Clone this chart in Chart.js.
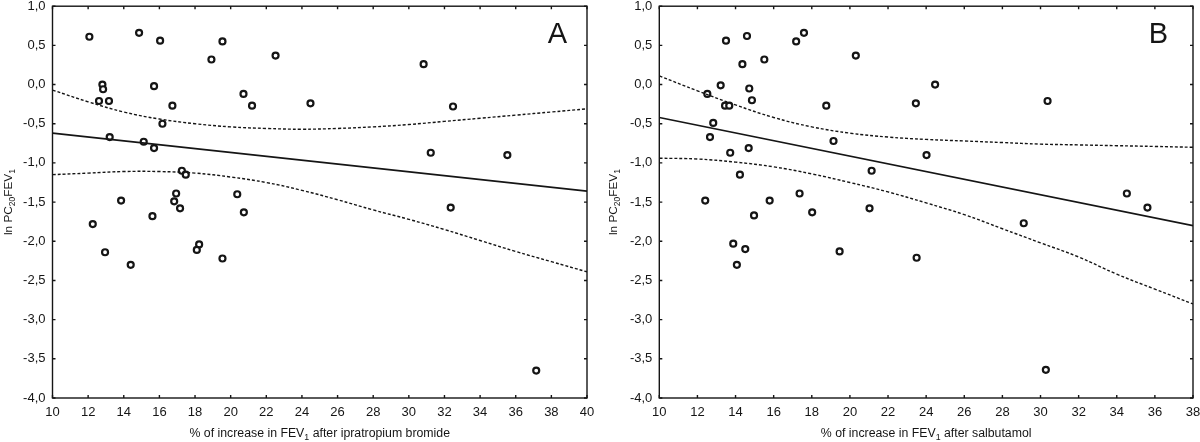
<!DOCTYPE html>
<html>
<head>
<meta charset="utf-8">
<title>PC20 vs FEV1 increase</title>
<script src="https://cdn.jsdelivr.net/npm/chart.js"></script>
<style>
  body { margin:0; background:#fff; }
  .panel { position:absolute; top:0; width:600px; height:442px; }
  #wrapA { left:0; }
  #wrapB { left:600px; }
</style>
</head>
<body>
<div class="panel" id="wrapA"><canvas id="chartA" width="600" height="442"></canvas></div>
<div class="panel" id="wrapB"><canvas id="chartB" width="600" height="442"></canvas></div>
<script>
// panel A: ipratropium bromide
const aX = [12.07, 14.86, 16.04, 18.92, 19.54, 22.52, 30.83,
            12.8, 12.84, 12.61, 13.17, 15.7, 16.73, 20.72, 21.2, 24.48, 32.48,
            16.17, 13.21, 15.12, 15.7, 17.26, 17.48, 31.23, 35.53,
            13.85, 16.94, 16.83, 17.16, 20.37, 20.74, 15.61, 32.35, 12.26, 12.95, 14.39, 18.23, 18.1, 19.54, 37.15];
const aY = [0.61, 0.66, 0.56, 0.32, 0.55, 0.37, 0.26,
            0.00, -0.06, -0.21, -0.21, -0.02, -0.27, -0.12, -0.27, -0.24, -0.28,
            -0.50, -0.67, -0.73, -0.81, -1.10, -1.15, -0.87, -0.90,
            -1.48, -1.39, -1.49, -1.58, -1.40, -1.63, -1.68, -1.57, -1.78, -2.14, -2.30, -2.04, -2.11, -2.22, -3.65];
const aFitX = [10, 40];
const aFitY = [-0.62, -1.36];
const aBandX = [10, 12, 14, 16, 18, 20, 22, 24, 26, 28, 30, 32, 34, 36, 38, 40];
const aUpper = [-0.07, -0.22, -0.35, -0.44, -0.50, -0.54, -0.56, -0.57, -0.56, -0.54, -0.51, -0.47, -0.43, -0.39, -0.35, -0.31];
const aLower = [-1.15, -1.13, -1.11, -1.11, -1.13, -1.18, -1.25, -1.35, -1.47, -1.60, -1.72, -1.85, -1.99, -2.13, -2.26, -2.39];

// panel B: salbutamol
const bX = [13.5, 14.6, 17.18, 17.59, 15.51, 14.36, 20.31,
            13.22, 14.72, 12.52, 14.86, 13.45, 13.67, 18.76, 23.46, 24.47, 30.37,
            12.83, 12.66, 19.14, 14.69, 13.72, 21.14, 14.23, 24.02,
            12.41, 15.79, 17.36, 18.02, 21.03, 14.97, 34.53, 35.61, 13.88, 14.51, 14.07, 19.46, 23.5, 29.12, 30.28];
const bY = [0.56, 0.62, 0.55, 0.66, 0.32, 0.26, 0.37,
            -0.01, -0.05, -0.12, -0.20, -0.27, -0.27, -0.27, -0.24, 0.00, -0.21,
            -0.49, -0.67, -0.72, -0.81, -0.87, -1.10, -1.15, -0.90,
            -1.48, -1.48, -1.39, -1.63, -1.58, -1.67, -1.39, -1.57, -2.03, -2.10, -2.30, -2.13, -2.21, -1.77, -3.64];
const bFitX = [10, 38];
const bFitY = [-0.42, -1.80];
const bBandX = [10, 12, 14, 16, 18, 20, 22, 24, 26, 28, 30, 32, 34, 36, 38];
const bUpper = [0.11, -0.08, -0.26, -0.42, -0.54, -0.62, -0.67, -0.70, -0.72, -0.74, -0.76, -0.77, -0.78, -0.79, -0.80];
const bLower = [-0.94, -0.95, -0.99, -1.05, -1.14, -1.25, -1.37, -1.51, -1.66, -1.84, -2.02, -2.20, -2.42, -2.61, -2.80];

const yTitle = [['ln PC', false], ['20', true], ['FEV', false], ['1', true]];
const FONT = '"Liberation Sans", Arial, sans-serif';
const INK = '#151515';

function pts(xs, ys) { return xs.map((x, i) => ({x: x, y: ys[i]})); }

// text with subscripts, centred on (cx, baseline)
function richText(ctx, parts, cx, base, size) {
  const sub = size * 0.72;
  let w = 0;
  parts.forEach(p => { ctx.font = (p[1] ? sub : size) + 'px ' + FONT; w += ctx.measureText(p[0]).width; });
  let x = cx - w / 2;
  parts.forEach(p => {
    ctx.font = (p[1] ? sub : size) + 'px ' + FONT;
    ctx.fillText(p[0], x, p[1] ? base + size * 0.28 : base);
    x += ctx.measureText(p[0]).width;
  });
}

const framePlugin = {
  id: 'frame',
  afterDraw(chart, args, o) {
    const {ctx, chartArea: a, scales: {x, y}} = chart;
    ctx.save();
    ctx.strokeStyle = INK;
    ctx.lineWidth = 1.4;
    ctx.strokeRect(a.left, a.top, a.right - a.left, a.bottom - a.top);
    ctx.beginPath();
    x.ticks.forEach(t => {
      const px = x.getPixelForValue(t.value);
      ctx.moveTo(px, a.bottom); ctx.lineTo(px, a.bottom - 3);
      ctx.moveTo(px, a.top); ctx.lineTo(px, a.top + 3);
    });
    y.ticks.forEach(t => {
      const py = y.getPixelForValue(t.value);
      ctx.moveTo(a.left, py); ctx.lineTo(a.left + 3, py);
      ctx.moveTo(a.right, py); ctx.lineTo(a.right - 3, py);
    });
    ctx.stroke();

    ctx.fillStyle = INK;
    ctx.textBaseline = 'alphabetic';
    ctx.textAlign = 'right';
    ctx.font = '29px ' + FONT;
    ctx.fillText(o.letter, a.right - o.letterGap, a.top + 37);

    ctx.textAlign = 'left';
    richText(ctx, o.xTitle, (a.left + a.right) / 2, 437, 12.3);

    ctx.save();
    ctx.translate(o.yTitleX, (a.top + a.bottom) / 2);
    ctx.rotate(-Math.PI / 2);
    richText(ctx, yTitle, 0, 0, 11.8);
    ctx.restore();
    ctx.restore();
  }
};

function makeChart(id, d) {
  const lineDs = (xs, ys, dashed) => ({
    data: pts(xs, ys), showLine: true, pointRadius: 0, borderColor: INK,
    borderWidth: dashed ? 1.4 : 1.6, borderDash: dashed ? [3, 2] : [],
    tension: dashed ? 0.4 : 0, fill: false
  });
  return new Chart(document.getElementById(id).getContext('2d'), {
    type: 'scatter',
    data: {
      datasets: [
        lineDs(d.bandX, d.upper, true),
        lineDs(d.bandX, d.lower, true),
        lineDs(d.fitX, d.fitY, false),
        { data: pts(d.xs, d.ys), pointRadius: 3, pointBorderWidth: 2.2,
          pointBackgroundColor: '#fff', pointBorderColor: INK }
      ]
    },
    options: {
      responsive: false,
      animation: false,
      layout: { padding: { top: 6, right: d.padRight, left: 0, bottom: 0 } },
      plugins: {
        legend: { display: false },
        tooltip: { enabled: false },
        frame: { letter: d.letter, letterGap: d.letterGap, xTitle: d.xTitle, yTitleX: d.yTitleX }
      },
      scales: {
        x: {
          type: 'linear', min: 10, max: d.xMax,
          grid: { display: false, drawTicks: false }, border: { display: false },
          ticks: { stepSize: 2, padding: 7, color: INK, font: { family: FONT, size: 13 } },
          afterFit: s => { s.height = 44; s.paddingRight = 0; s.paddingLeft = 0; }
        },
        y: {
          min: -4, max: 1,
          grid: { display: false, drawTicks: false }, border: { display: false },
          ticks: { stepSize: 0.5, padding: 7, color: INK, font: { family: FONT, size: 13 },
                   callback: v => v.toFixed(1).replace('.', ',') },
          afterFit: s => { s.width = d.yWidth; s.paddingTop = 0; s.paddingBottom = 0; }
        }
      }
    },
    plugins: [framePlugin]
  });
}

makeChart('chartA', {
  xs: aX, ys: aY, fitX: aFitX, fitY: aFitY, bandX: aBandX, upper: aUpper, lower: aLower,
  xMax: 40, padRight: 13, yWidth: 52.5, letter: 'A', letterGap: 20, yTitleX: 12,
  xTitle: [['% of increase in FEV', false], ['1', true], [' after ipratropium bromide', false]]
});
makeChart('chartB', {
  xs: bX, ys: bY, fitX: bFitX, fitY: bFitY, bandX: bBandX, upper: bUpper, lower: bLower,
  xMax: 38, padRight: 7, yWidth: 59.3, letter: 'B', letterGap: 25, yTitleX: 17,
  xTitle: [['% of increase in FEV', false], ['1', true], [' after salbutamol', false]]
});
</script>
</body>
</html>
